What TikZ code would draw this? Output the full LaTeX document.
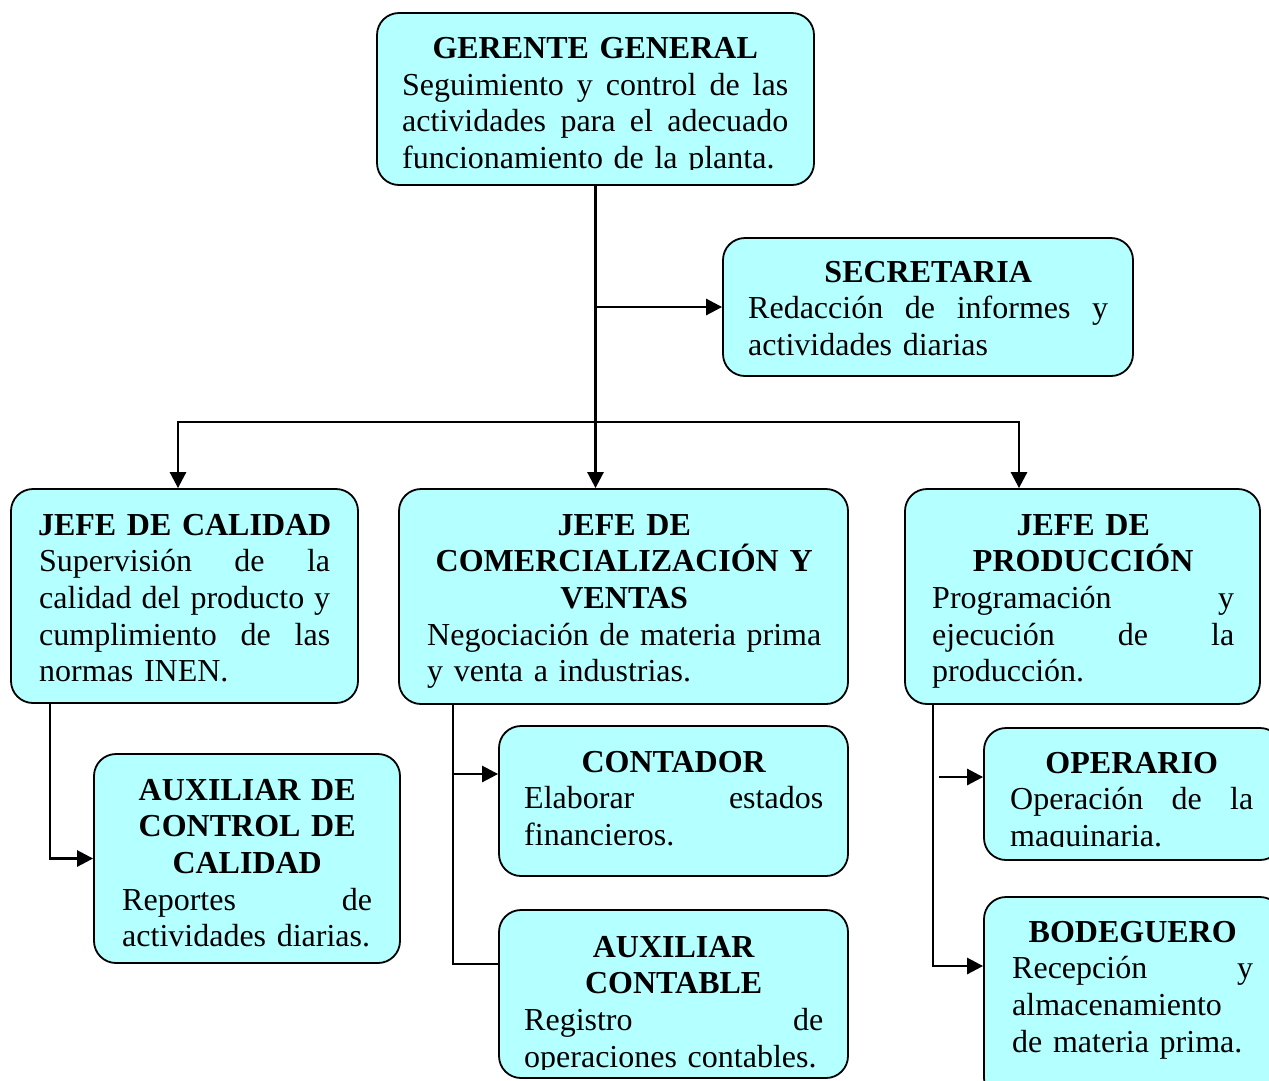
\documentclass[tikz,border=0pt]{standalone}
\usepackage{fontspec}
\setmainfont{Liberation Serif}
\usetikzlibrary{arrows.meta}
\definecolor{boxfill}{RGB}{180,255,255}
\newcommand\hd[1]{\makebox[\linewidth][c]{\bfseries #1}}
\newcommand\js[1]{\leavevmode\hbox to\linewidth{#1}}
\newcommand\lf[1]{\makebox[\linewidth][l]{#1}}
\tikzset{
  box/.style={draw=black, line width=1.8pt, fill=boxfill, rounded corners=22pt, inner sep=0pt},
  txt/.style={anchor=base west, inner sep=0pt, font=\fontsize{32}{36.7}\selectfont},
  conn/.style={draw=black, line width=2.7pt},
  arr/.style={conn, -{Triangle[length=16pt,width=16pt]}}
}
\begin{document}
\begin{tikzpicture}[x=1pt,y=-1pt]
\useasboundingbox (0,0) rectangle (1269,1080);
% boxes
\node[box, minimum width=437pt, minimum height=172pt] (g) at (595.5,99) {};
\node[box, minimum width=410pt, minimum height=138pt] (s) at (928,307) {};
\node[box, minimum width=347pt, minimum height=214pt] (jc) at (184.5,596) {};
\node[box, minimum width=449pt, minimum height=215pt] (jv) at (623.5,596.5) {};
\node[box, minimum width=355pt, minimum height=215pt] (jp) at (1082.5,596.5) {};
\node[box, minimum width=306pt, minimum height=209pt] (ac) at (247,858.5) {};
\node[box, minimum width=349pt, minimum height=150pt] (ct) at (673.5,801) {};
\node[box, minimum width=349pt, minimum height=168pt] (ab) at (673.5,994) {};
\node[box, minimum width=298pt, minimum height=132pt] (op) at (1133,794) {};
\node[box, minimum width=298pt, minimum height=203pt] (bd) at (1133,998.5) {};
% texts
\begin{scope}
\clip (377,13) rectangle (814,169.5);
\node[txt, text width=386pt] (gt) at (402,58.5) {\hd{GERENTE GENERAL}\\\js{Seguimiento\hfill y\hfill control\hfill de\hfill las}\\\js{actividades\hfill para\hfill el\hfill adecuado}\\\lf{funcionamiento de la planta.}};
\end{scope}
\node[txt, text width=360pt] (st) at (748,282) {\hd{SECRETARIA}\\\js{Redacción\hfill de\hfill informes\hfill y}\\\lf{actividades diarias}};
\node[txt, text width=291pt] (jct) at (39,535) {\hd{JEFE DE CALIDAD}\\\js{Supervisión\hfill de\hfill la}\\\js{calidad\hfill del\hfill producto\hfill y}\\\js{cumplimiento\hfill de\hfill las}\\\lf{normas INEN.}};
\node[txt, text width=394pt] (jvt) at (427,535) {\hd{JEFE DE}\\\hd{COMERCIALIZACIÓN Y}\\\hd{VENTAS}\\\js{Negociación\hfill de\hfill materia\hfill prima}\\\lf{y venta a industrias.}};
\node[txt, text width=302pt] (jpt) at (932,535) {\hd{JEFE DE}\\\hd{PRODUCCIÓN}\\\js{Programación\hfill y}\\\js{ejecución\hfill de\hfill la}\\\lf{producción.}};
\begin{scope}
\clip (94,754) rectangle (400,947.5);
\node[txt, text width=250pt] (act) at (122,800) {\hd{AUXILIAR DE}\\\hd{CONTROL DE}\\\hd{CALIDAD}\\\js{Reportes\hfill de}\\\lf{actividades diarias.}};
\end{scope}
\node[txt, text width=299pt] (ctt) at (524,772) {\hd{CONTADOR}\\\js{Elaborar\hfill estados}\\\lf{financieros.}};
\begin{scope}
\clip (499,910) rectangle (848,1069);
\node[txt, text width=299pt] (abt) at (524,957) {\hd{AUXILIAR}\\\hd{CONTABLE}\\\js{Registro\hfill de}\\\lf{operaciones contables.}};
\end{scope}
\begin{scope}
\clip (984,728) rectangle (1282,846.8);
\node[txt, text width=243pt] (opt) at (1010,773) {\hd{OPERARIO}\\\js{Operación\hfill de\hfill la}\\\lf{maquinaria.}};
\end{scope}
\node[txt, text width=241pt] (bdt) at (1012,942) {\hd{BODEGUERO}\\\js{Recepción\hfill y}\\\lf{almacenamiento}\\\lf{de materia prima.}};
% connectors
\coordinate (hL) at (178,422);
\coordinate (hR) at (1019,422);
\coordinate (cL) at (50,0);
\coordinate (vB) at (453,964);
\coordinate (vC) at (453,774);
\coordinate (pB) at (933,966);
\coordinate (oA) at (939,777);
\draw[arr] (g.south) -- (g.south |- jv.north);
\draw[arr] (g.south |- s.west) -- (s.west);
\draw[arr] (g.south |- hL) -- (hL) -- (hL |- jc.north);
\draw[arr] (g.south |- hR) -- (hR) -- (hR |- jp.north);
\draw[arr] (cL |- jc.south) -- (cL |- ac.west) -- (ac.west);
\draw[conn] (vB |- jv.south) -- (vB) -- (vB -| ab.west);
\draw[arr] (vC) -- (vC -| ct.west);
\draw[arr] (pB |- jp.south) -- (pB) -- (pB -| bd.west);
\draw[arr] (oA) -- (oA -| op.west);
\end{tikzpicture}
\end{document}
